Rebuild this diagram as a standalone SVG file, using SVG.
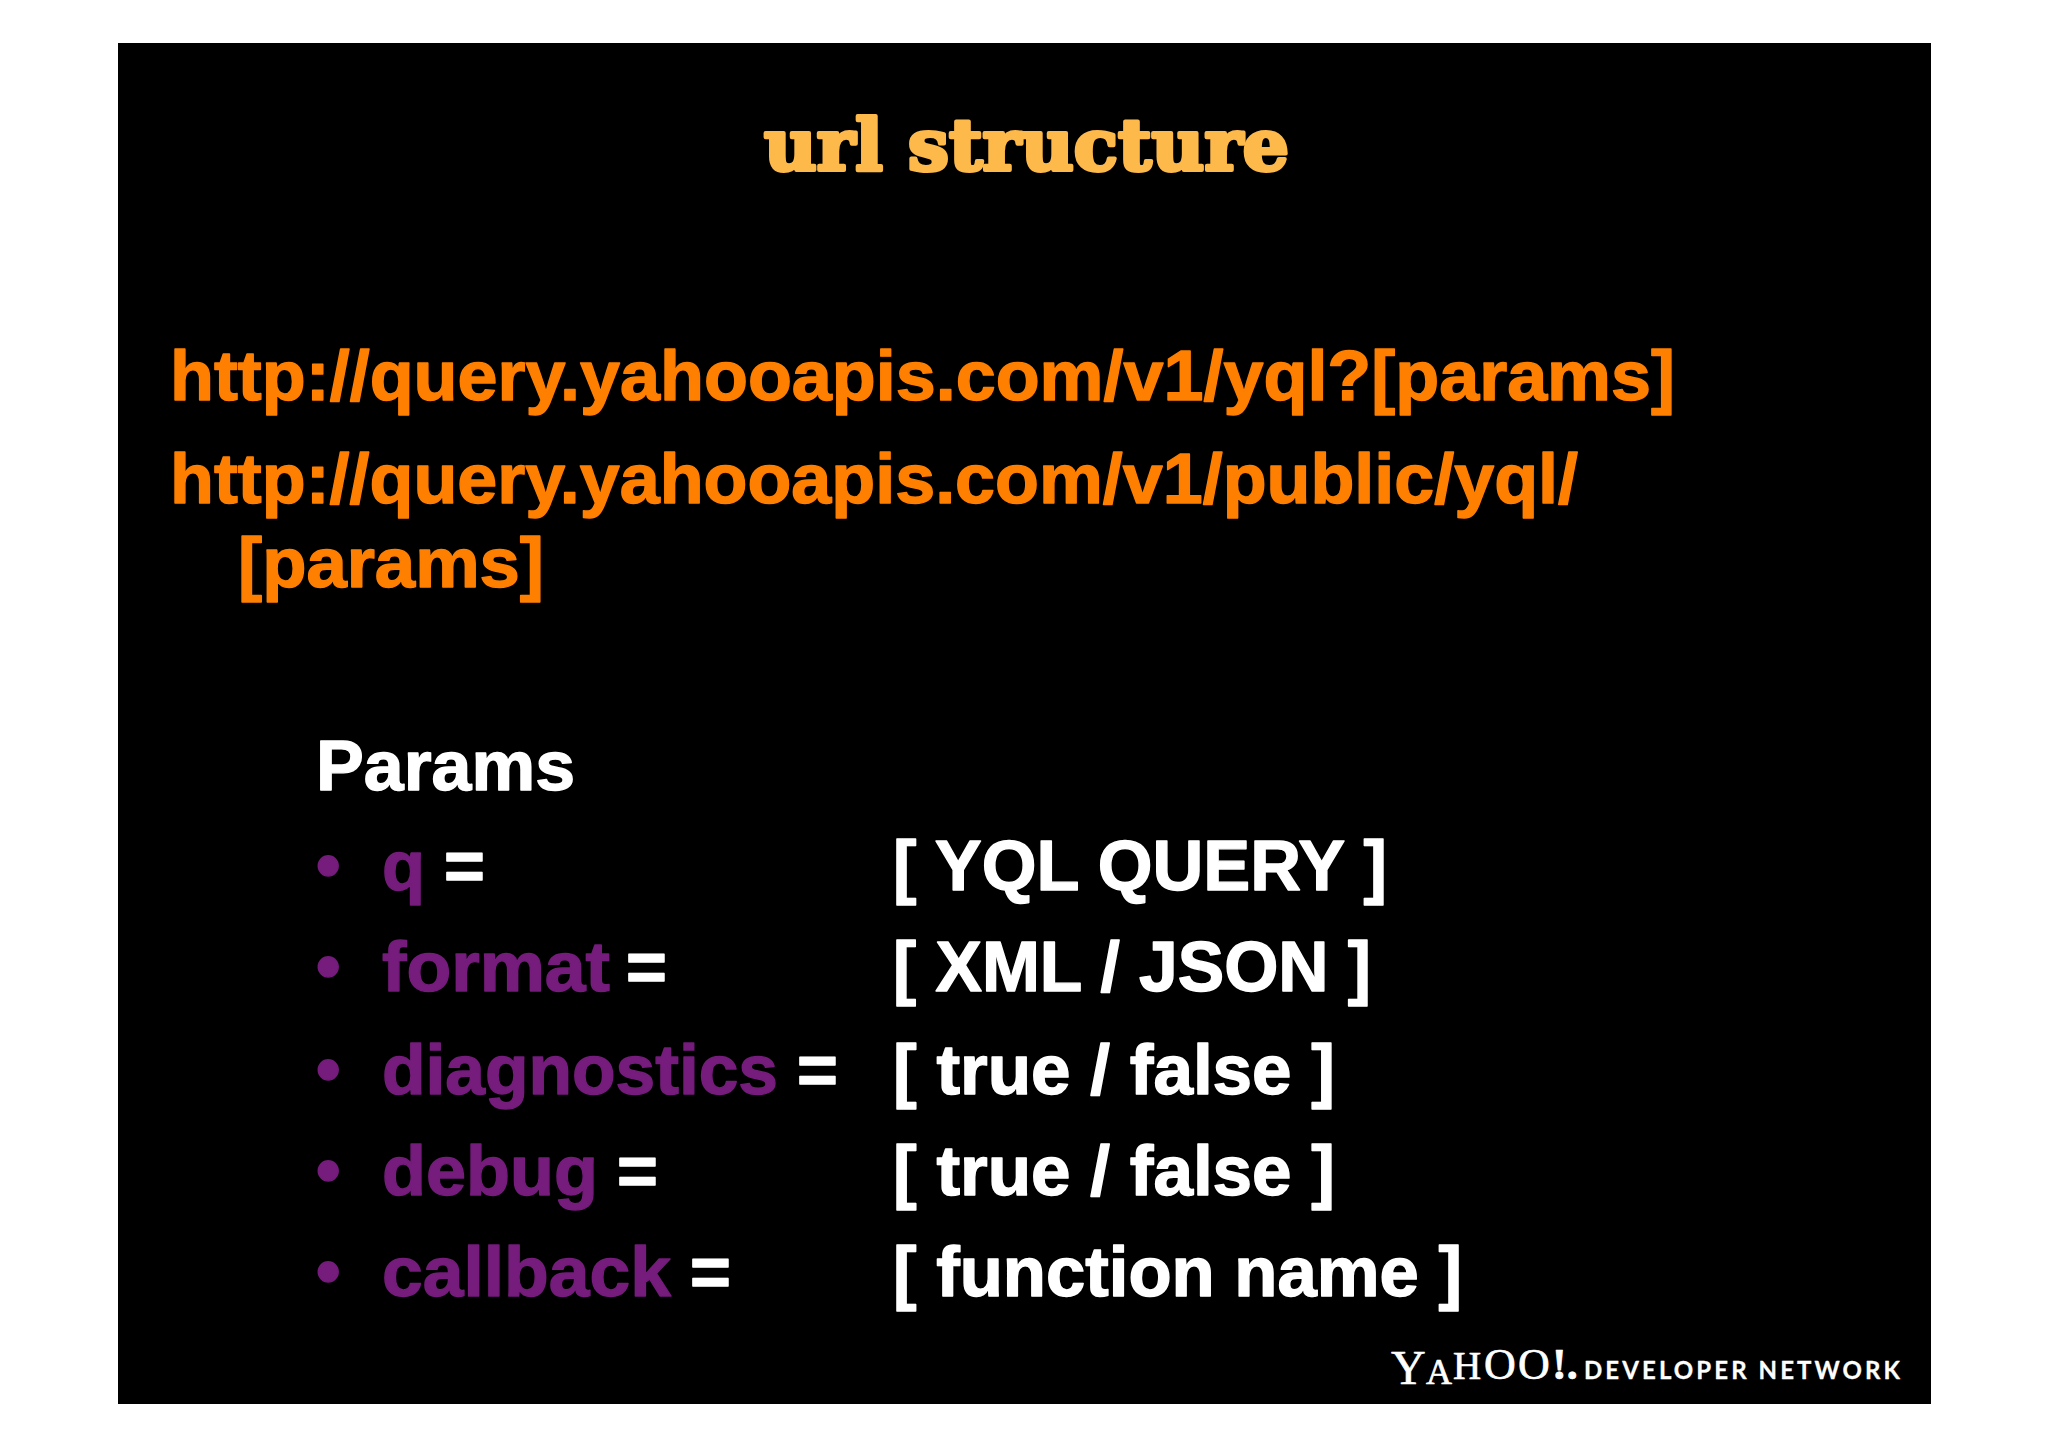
<svg xmlns="http://www.w3.org/2000/svg" width="2048" height="1447" viewBox="0 0 2048 1447">
<style>
text{font-family:"Liberation Sans",Arial,sans-serif;font-weight:bold;font-size:70px;stroke-width:1.4px;stroke-linejoin:round}
.u{fill:#ff7f00;stroke:#ff7f00}
.w{fill:#fff;stroke:#fff}
.p{fill:#751c7c;stroke:#751c7c}
.y{font-family:"Liberation Serif",serif;font-weight:normal;stroke-width:.7px;fill:#fff;stroke:#fff}
</style>
<rect width="2048" height="1447" fill="#fff"/>
<rect x="118" y="43" width="1813" height="1361" fill="#000"/>
<g id="title"><text x="764" y="170" textLength="525" lengthAdjust="spacingAndGlyphs" style="font-family:'DejaVu Serif',serif;font-size:71px;stroke-width:4px" fill="#fdb94a" stroke="#fdb94a">url structure</text></g>
<g id="urls">
<text class="u" x="170" y="400" textLength="1505" lengthAdjust="spacingAndGlyphs">http://query.yahooapis.com/v1/yql?[params]</text>
<text class="u" x="170" y="503" textLength="1408" lengthAdjust="spacingAndGlyphs">http://query.yahooapis.com/v1/public/yql/</text>
<text class="u" x="238" y="587" textLength="306" lengthAdjust="spacingAndGlyphs">[params]</text>
</g>
<g id="params">
<text class="w" x="316" y="790" textLength="259" lengthAdjust="spacingAndGlyphs">Params</text>
<text class="p" x="316" y="889">•</text><text class="p" x="382" y="890" textLength="43" lengthAdjust="spacingAndGlyphs">q</text><text class="w" x="444" y="890">=</text>
<text class="p" x="316" y="990">•</text><text class="p" x="382" y="991" textLength="228" lengthAdjust="spacingAndGlyphs">format</text><text class="w" x="626" y="991">=</text>
<text class="p" x="316" y="1093">•</text><text class="p" x="382" y="1094" textLength="396" lengthAdjust="spacingAndGlyphs">diagnostics</text><text class="w" x="797" y="1094">=</text>
<text class="p" x="316" y="1194">•</text><text class="p" x="382" y="1195" textLength="216" lengthAdjust="spacingAndGlyphs">debug</text><text class="w" x="617" y="1195">=</text>
<text class="p" x="316" y="1295">•</text><text class="p" x="382" y="1296" textLength="289" lengthAdjust="spacingAndGlyphs">callback</text><text class="w" x="690" y="1296">=</text>
<text class="w" x="893" y="890" textLength="494" lengthAdjust="spacingAndGlyphs">[ YQL QUERY ]</text>
<text class="w" x="893" y="991" textLength="478" lengthAdjust="spacingAndGlyphs">[ XML / JSON ]</text>
<text class="w" x="893" y="1094" textLength="442" lengthAdjust="spacingAndGlyphs">[ true / false ]</text>
<text class="w" x="893" y="1195" textLength="442" lengthAdjust="spacingAndGlyphs">[ true / false ]</text>
<text class="w" x="893" y="1296" textLength="569" lengthAdjust="spacingAndGlyphs">[ function name ]</text>
</g>
<g id="logo">
<text class="y" y="1384" style="font-size:48px"><tspan x="1391">Y</tspan><tspan x="1426" style="font-size:36px">A</tspan><tspan x="1453" y="1379" style="font-size:39px">H</tspan><tspan x="1484" style="font-size:44px">O</tspan><tspan x="1518" style="font-size:44px">O</tspan><tspan x="1552" y="1379" style="font-size:44px;font-weight:bold">!.</tspan></text>
<text x="1584" y="1379" textLength="316" lengthAdjust="spacing" style="font-family:Lato,sans-serif;font-size:24px;stroke-width:.3px" fill="#fff" stroke="#fff">DEVELOPER NETWORK</text>
</g>
</svg>
